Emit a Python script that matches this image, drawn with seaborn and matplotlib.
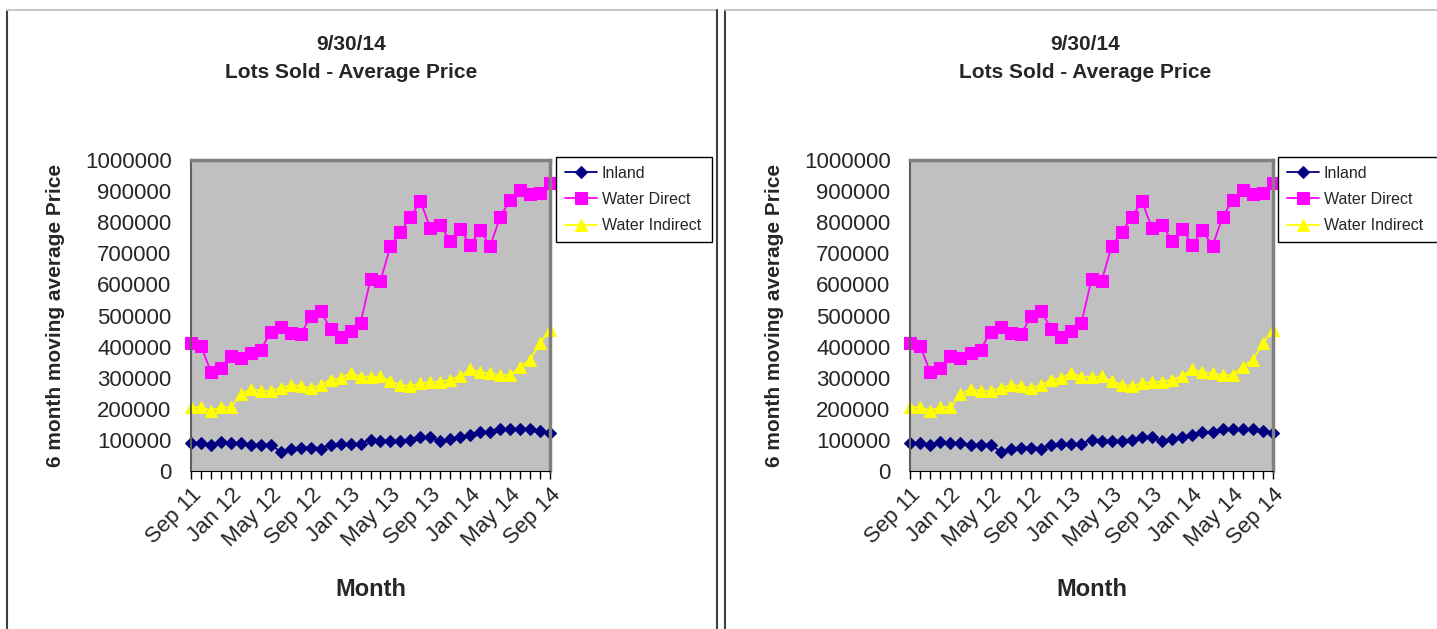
import numpy as np
import pandas as pd
import seaborn as sns
import matplotlib.pyplot as plt
from matplotlib.lines import Line2D
from matplotlib.ticker import FixedLocator

# meses Sep 11 .. Sep 14
months = pd.date_range("2011-09-01", periods=37, freq="MS").strftime("%b %y").tolist()

inland = [90000, 90000, 84000, 92000, 91000, 89000, 85000, 85000, 85000, 61000,
          72000, 75000, 75000, 72000, 83000, 88000, 87000, 87000, 101000, 98000,
          98000, 97000, 100000, 108000, 108000, 95000, 104000, 108000, 117000, 124000,
          124000, 135000, 135000, 135000, 135000, 128000, 123000]
water_direct = [413000, 402000, 319000, 331000, 370000, 362000, 378000, 390000, 448000, 464000,
                443000, 439000, 498000, 513000, 458000, 432000, 449000, 476000, 616000, 611000,
                723000, 769000, 816000, 868000, 781000, 790000, 740000, 778000, 727000, 774000,
                723000, 817000, 871000, 903000, 890000, 894000, 925000]
water_indirect = [205000, 205000, 194000, 205000, 205000, 246000, 264000, 257000, 257000, 267000,
                  276000, 273000, 267000, 277000, 292000, 299000, 315000, 303000, 303000, 304000,
                  289000, 277000, 273000, 283000, 285000, 287000, 294000, 305000, 327000, 318000,
                  314000, 308000, 308000, 336000, 357000, 411000, 454000]

series = [("Inland", inland, "#000080", "D", 6),
          ("Water Direct", water_direct, "#ff00ff", "s", 8),
          ("Water Indirect", water_indirect, "#ffff00", "^", 8)]

sns.set_style("white")
plt.rcParams['font.family'] = ['Liberation Sans', 'DejaVu Sans']

W, H = 1437, 629
fig = plt.figure(figsize=(W / 100, H / 100), dpi=100)

x = np.arange(len(months))


def draw_panel(px0, px1, legend_x0, legend_x1, title_x, border_left, border_right):
    ax = fig.add_axes([px0 / W, (H - 471) / H, (px1 - px0) / W, (471 - 160) / H])
    ax.set_facecolor("#c0c0c0")
    for name, vals, col, mk, ms in series:
        sns.lineplot(x=x, y=vals, ax=ax, color=col, marker=mk, markersize=ms,
                     markeredgecolor=col, linewidth=1.3, label=name, clip_on=False)
    ax.set_xlim(0, len(months) - 1)
    ax.set_ylim(0, 1000000)

    # eje y
    ax.set_yticks(np.arange(0, 1000001, 100000))
    ax.set_yticklabels([str(v) for v in range(0, 1000001, 100000)], fontsize=16)
    ax.tick_params(axis="y", which="major", length=0, pad=14)
    ax.yaxis.set_minor_locator(FixedLocator([0, 200000, 400000, 600000, 800000, 900000]))
    ax.tick_params(axis="y", which="minor", length=7, width=1, color="black", left=True)
    ax.grid(axis="y", which="minor", color="black", linewidth=1.2)

    # eje x
    ax.set_xticks(x[::4])
    ax.set_xticklabels(months[::4], fontsize=16, rotation=45, ha="right",
                       rotation_mode="anchor")
    ax.set_xticks(x, minor=True)
    ax.tick_params(axis="x", which="both", direction="out", length=6, width=1,
                   color="black", bottom=True)

    for s in ["top", "right"]:
        ax.spines[s].set_color("#808080")
        ax.spines[s].set_linewidth(2.5)
    ax.spines["left"].set_color("#606060")
    ax.spines["left"].set_linewidth(1.5)
    ax.spines["bottom"].set_color("black")

    ax.set_xlabel("Month", fontsize=17, fontweight="bold")
    ax.xaxis.set_label_coords(0.5, -(578 - 471) / 311)
    ax.set_ylabel("6 month moving average Price", fontsize=15, fontweight="bold")
    ax.yaxis.set_label_coords(-126 / (px1 - px0), 0.5)

    leg = ax.legend(loc="upper left",
                    bbox_to_anchor=(legend_x0 / W, 1 - 157 / H, (legend_x1 - legend_x0) / W, 0),
                    bbox_transform=fig.transFigure, mode="expand", fontsize=11.5,
                    frameon=True, fancybox=False, edgecolor="black", framealpha=1,
                    handlelength=2.0, handletextpad=0.3, labelspacing=0.7,
                    borderpad=0.55, borderaxespad=0)
    leg.get_frame().set_linewidth(1.0)

    fig.text(title_x / W, 1 - 44 / H, "9/30/14", ha="center", va="center",
             fontsize=15, fontweight="bold")
    fig.text(title_x / W, 1 - 72 / H, "Lots Sold - Average Price", ha="center",
             va="center", fontsize=15, fontweight="bold")

    # marco del grafico
    fig.add_artist(Line2D([border_left / W, border_left / W], [0, 1 - 10 / H],
                          transform=fig.transFigure, color="#404040", linewidth=1.5))
    fig.add_artist(Line2D([border_left / W, border_right / W], [1 - 10 / H, 1 - 10 / H],
                          transform=fig.transFigure, color="#c8c8c8", linewidth=1.5))
    return ax


draw_panel(191, 550, 556, 712, 351, 7, 716.5)
draw_panel(910, 1273, 1278, 1450, 1085, 725, 1437)
fig.add_artist(Line2D([716.5 / W, 716.5 / W], [0, 1 - 10 / H],
                      transform=fig.transFigure, color="#404040", linewidth=1.5))

fig.savefig("out.png", dpi=100, facecolor="white")
